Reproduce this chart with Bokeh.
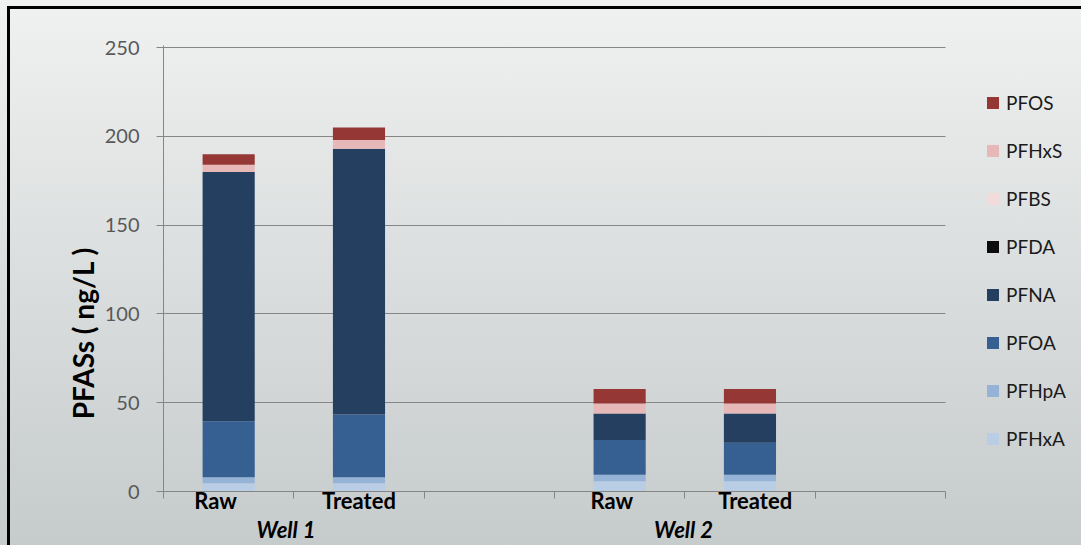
from bokeh.plotting import figure
from bokeh.models import ColumnDataSource, Legend, LegendItem, FixedTicker, LinearAxis
from bokeh.embed import file_html
from bokeh.resources import INLINE

# ---- data ----
samples = ["Raw", "Treated", "Raw", "Treated"]
wells = ["Well 1", "Well 2"]
compounds = ["PFHxA", "PFHpA", "PFOA", "PFNA", "PFDA", "PFBS", "PFHxS", "PFOS"]
PFHxA = [4.7, 4.7, 5.8, 5.8]
PFHpA = [3.3, 3.3, 3.6, 3.6]
PFOA = [31.5, 35.3, 19.6, 18.1]
PFNA = [140.5, 149.7, 15.0, 16.5]
PFDA = [0.0, 0.0, 0.0, 0.0]
PFBS = [0.0, 0.0, 0.0, 0.0]
PFHxS = [4.0, 5.0, 5.6, 5.6]
PFOS = [6.0, 7.0, 8.1, 8.1]
y_ticks = [0, 50, 100, 150, 200, 250]
y_title = "PFASs  ( ng/L )"

colors = ["#b9cde5", "#95b3d7", "#366092", "#243f60", "#0d0d0d", "#f2dcdb", "#e6b9b8", "#953735"]

# 6 category slots; bars occupy slots 0,1 (Well 1) and 3,4 (Well 2)
n_slots = 6
slot_index = [0, 1, 3, 4]
xpos = [i + 0.5 for i in slot_index]
sample_label_x = [0.40, 1.50, 3.44, 4.54]
well_label_x = [0.94, 3.99]

source = ColumnDataSource(dict(x=xpos, PFHxA=PFHxA, PFHpA=PFHpA, PFOA=PFOA, PFNA=PFNA,
                               PFDA=PFDA, PFBS=PFBS, PFHxS=PFHxS, PFOS=PFOS))

FONT = "Lato"
GRAY = "#868686"

# frame extends to the right edge so the legend can live inside it
p = figure(width=1081, height=545, x_range=(0, 7.044), y_range=(0, 251.2),
           output_backend="svg", toolbar_location=None,
           min_border_left=163, min_border_right=0,
           min_border_top=45, min_border_bottom=54)
p.background_fill_alpha = 0
p.border_fill_alpha = 0
p.outline_line_color = None
p.styles = {"background": "linear-gradient(#000,#000) 7px 6px / 100% 3px no-repeat, "
                          "linear-gradient(#000,#000) 7px 6px / 3px 100% no-repeat, "
                          "linear-gradient(to bottom, #f0f1f1 0%, #c6cbcb 100%)"}

renderers = p.vbar_stack(compounds, x="x", width=0.4, color=colors, source=source,
                         line_color=None)

# y axis
p.yaxis.ticker = FixedTicker(ticks=y_ticks)
p.yaxis.axis_line_color = GRAY
p.yaxis.major_tick_line_color = GRAY
p.yaxis.major_tick_out = 7
p.yaxis.major_tick_in = 0
p.yaxis.minor_tick_line_color = None
p.yaxis.major_label_standoff = 17
p.yaxis.major_label_text_font = FONT
p.yaxis.major_label_text_font_size = "20px"
p.yaxis.major_label_text_color = "#595959"
p.yaxis.axis_label = y_title + "\u00a0" * 18
p.yaxis.axis_label_standoff = 2
p.yaxis.axis_label_text_font = FONT
p.yaxis.axis_label_text_font_size = "28px"
p.yaxis.axis_label_text_font_style = "bold"
p.yaxis.axis_label_text_color = "#000000"

# x axis: boundary ticks (minor) + sample labels (major, invisible ticks)
xa = p.xaxis[0]
xa.bounds = (0, n_slots)
xa.ticker = FixedTicker(ticks=sample_label_x, minor_ticks=list(range(n_slots + 1)))
xa.major_label_overrides = {v: s for v, s in zip(sample_label_x, samples)}
xa.axis_line_color = GRAY
xa.major_tick_line_color = None
xa.major_tick_out = 0
xa.major_tick_in = 0
xa.minor_tick_line_color = GRAY
xa.minor_tick_out = 7
xa.minor_tick_in = 0
xa.major_label_standoff = -12
xa.major_label_text_font = FONT
xa.major_label_text_font_size = "22px"
xa.major_label_text_font_style = "bold"
xa.major_label_text_color = "#000000"

# second x axis: well labels
wa = LinearAxis(ticker=FixedTicker(ticks=well_label_x, minor_ticks=[]),
                major_label_overrides={v: s for v, s in zip(well_label_x, wells)})
wa.axis_line_color = None
wa.major_tick_line_color = None
wa.minor_tick_line_color = None
wa.major_tick_out = 0
wa.major_tick_in = 0
wa.major_label_standoff = -1
wa.major_label_text_font = FONT
wa.major_label_text_font_size = "22px"
wa.major_label_text_font_style = "bold italic"
wa.major_label_text_color = "#000000"
p.add_layout(wa, "below")

p.xgrid.grid_line_color = None
p.ygrid.ticker = FixedTicker(ticks=y_ticks[1:])
p.ygrid.grid_line_color = GRAY
p.ygrid.grid_line_width = 1
p.ygrid.cross_bounds = (0, n_slots)

# legend (top to bottom: PFOS ... PFHxA)
items = [LegendItem(label=c, renderers=[r]) for c, r in zip(compounds, renderers)][::-1]
legend = Legend(items=items, location=(822, 41), orientation="vertical",
                background_fill_alpha=0, border_line_color=None,
                glyph_width=15, glyph_height=15, label_height=20, spacing=25,
                label_standoff=6, padding=0, margin=0,
                label_text_font=FONT, label_text_font_size="19px",
                label_text_color="#1a1a1a")
p.add_layout(legend)

open("out.html", "w").write(file_html(p, INLINE))
